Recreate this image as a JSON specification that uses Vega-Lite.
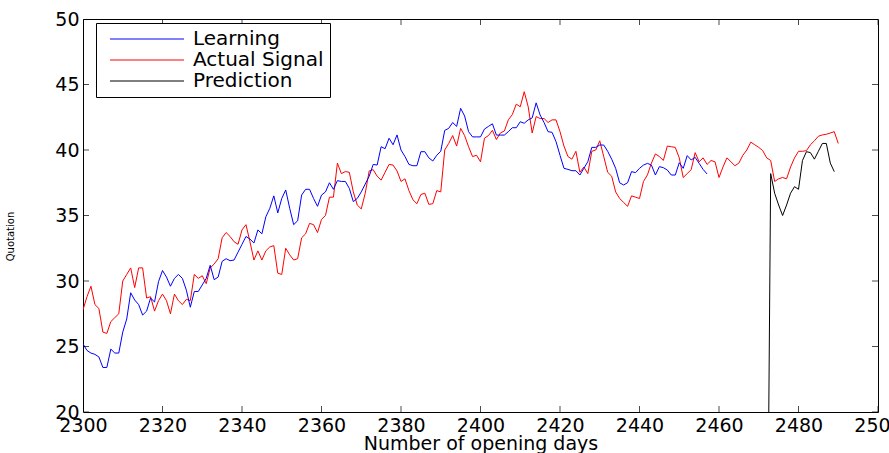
{
  "$schema": "https://vega.github.io/schema/vega-lite/v6.json",
  "width": 795,
  "height": 393,
  "autosize": {"type": "none"},
  "padding": {"left": 83, "top": 19, "right": 11, "bottom": 41},
  "background": "white",
  "config": {
    "view": {"stroke": "black", "strokeWidth": 1},
    "font": "DejaVu Sans",
    "axis": {"grid": false, "domainColor": "black", "labelColor": "black", "titleColor": "black", "labelFont": "DejaVu Sans", "titleFont": "DejaVu Sans", "titleFontWeight": "normal", "labelFontSize": 19, "titleFontSize": 19}
  },
  "datasets": {
    "xticks": [{"t":2300},{"t":2320},{"t":2340},{"t":2360},{"t":2380},{"t":2400},{"t":2420},{"t":2440},{"t":2460},{"t":2480},{"t":2500}],
    "yticks": [{"t":20},{"t":25},{"t":30},{"t":35},{"t":40},{"t":45},{"t":50}]
  },
  "data": {"values": [
    {"day":2300,"value":27.8,"series":"Actual Signal"},{"day":2301,"value":28.8,"series":"Actual Signal"},{"day":2302,"value":29.6,"series":"Actual Signal"},{"day":2303,"value":28.2,"series":"Actual Signal"},{"day":2304,"value":27.9,"series":"Actual Signal"},{"day":2305,"value":26.1,"series":"Actual Signal"},{"day":2306,"value":26.0,"series":"Actual Signal"},{"day":2307,"value":26.9,"series":"Actual Signal"},{"day":2308,"value":27.2,"series":"Actual Signal"},{"day":2309,"value":27.5,"series":"Actual Signal"},
    {"day":2310,"value":30.0,"series":"Actual Signal"},{"day":2311,"value":30.5,"series":"Actual Signal"},{"day":2312,"value":31.0,"series":"Actual Signal"},{"day":2313,"value":29.5,"series":"Actual Signal"},{"day":2314,"value":31.0,"series":"Actual Signal"},{"day":2315,"value":31.0,"series":"Actual Signal"},{"day":2316,"value":28.7,"series":"Actual Signal"},{"day":2317,"value":28.8,"series":"Actual Signal"},{"day":2318,"value":27.7,"series":"Actual Signal"},{"day":2319,"value":28.5,"series":"Actual Signal"},
    {"day":2320,"value":29.0,"series":"Actual Signal"},{"day":2321,"value":28.5,"series":"Actual Signal"},{"day":2322,"value":27.5,"series":"Actual Signal"},{"day":2323,"value":29.0,"series":"Actual Signal"},{"day":2324,"value":28.5,"series":"Actual Signal"},{"day":2325,"value":28.2,"series":"Actual Signal"},{"day":2326,"value":28.6,"series":"Actual Signal"},{"day":2327,"value":28.5,"series":"Actual Signal"},{"day":2328,"value":30.5,"series":"Actual Signal"},{"day":2329,"value":30.2,"series":"Actual Signal"},
    {"day":2330,"value":30.4,"series":"Actual Signal"},{"day":2331,"value":29.8,"series":"Actual Signal"},{"day":2332,"value":31.0,"series":"Actual Signal"},{"day":2333,"value":31.3,"series":"Actual Signal"},{"day":2334,"value":31.7,"series":"Actual Signal"},{"day":2335,"value":33.3,"series":"Actual Signal"},{"day":2336,"value":33.7,"series":"Actual Signal"},{"day":2337,"value":33.4,"series":"Actual Signal"},{"day":2338,"value":33.0,"series":"Actual Signal"},{"day":2339,"value":32.8,"series":"Actual Signal"},
    {"day":2340,"value":33.9,"series":"Actual Signal"},{"day":2341,"value":34.3,"series":"Actual Signal"},{"day":2342,"value":33.0,"series":"Actual Signal"},{"day":2343,"value":31.6,"series":"Actual Signal"},{"day":2344,"value":32.3,"series":"Actual Signal"},{"day":2345,"value":31.6,"series":"Actual Signal"},{"day":2346,"value":32.3,"series":"Actual Signal"},{"day":2347,"value":32.6,"series":"Actual Signal"},{"day":2348,"value":32.7,"series":"Actual Signal"},{"day":2349,"value":30.6,"series":"Actual Signal"},
    {"day":2350,"value":30.5,"series":"Actual Signal"},{"day":2351,"value":32.5,"series":"Actual Signal"},{"day":2352,"value":32.0,"series":"Actual Signal"},{"day":2353,"value":31.6,"series":"Actual Signal"},{"day":2354,"value":31.7,"series":"Actual Signal"},{"day":2355,"value":33.3,"series":"Actual Signal"},{"day":2356,"value":33.6,"series":"Actual Signal"},{"day":2357,"value":34.4,"series":"Actual Signal"},{"day":2358,"value":34.3,"series":"Actual Signal"},{"day":2359,"value":33.7,"series":"Actual Signal"},
    {"day":2360,"value":34.7,"series":"Actual Signal"},{"day":2361,"value":35.0,"series":"Actual Signal"},{"day":2362,"value":36.4,"series":"Actual Signal"},{"day":2363,"value":36.4,"series":"Actual Signal"},{"day":2364,"value":39.0,"series":"Actual Signal"},{"day":2365,"value":38.2,"series":"Actual Signal"},{"day":2366,"value":38.35,"series":"Actual Signal"},{"day":2367,"value":38.3,"series":"Actual Signal"},{"day":2368,"value":36.8,"series":"Actual Signal"},{"day":2369,"value":35.8,"series":"Actual Signal"},
    {"day":2370,"value":35.5,"series":"Actual Signal"},{"day":2371,"value":36.7,"series":"Actual Signal"},{"day":2372,"value":38.4,"series":"Actual Signal"},{"day":2373,"value":38.5,"series":"Actual Signal"},{"day":2374,"value":38.0,"series":"Actual Signal"},{"day":2375,"value":37.7,"series":"Actual Signal"},{"day":2376,"value":38.3,"series":"Actual Signal"},{"day":2377,"value":38.9,"series":"Actual Signal"},{"day":2378,"value":38.85,"series":"Actual Signal"},{"day":2379,"value":38.4,"series":"Actual Signal"},
    {"day":2380,"value":37.6,"series":"Actual Signal"},{"day":2381,"value":37.8,"series":"Actual Signal"},{"day":2382,"value":36.9,"series":"Actual Signal"},{"day":2383,"value":36.2,"series":"Actual Signal"},{"day":2384,"value":35.9,"series":"Actual Signal"},{"day":2385,"value":36.6,"series":"Actual Signal"},{"day":2386,"value":36.7,"series":"Actual Signal"},{"day":2387,"value":35.85,"series":"Actual Signal"},{"day":2388,"value":35.9,"series":"Actual Signal"},{"day":2389,"value":36.9,"series":"Actual Signal"},
    {"day":2390,"value":36.8,"series":"Actual Signal"},{"day":2391,"value":40.0,"series":"Actual Signal"},{"day":2392,"value":40.5,"series":"Actual Signal"},{"day":2393,"value":41.1,"series":"Actual Signal"},{"day":2394,"value":40.3,"series":"Actual Signal"},{"day":2395,"value":41.65,"series":"Actual Signal"},{"day":2396,"value":41.1,"series":"Actual Signal"},{"day":2397,"value":40.25,"series":"Actual Signal"},{"day":2398,"value":39.5,"series":"Actual Signal"},{"day":2399,"value":39.6,"series":"Actual Signal"},
    {"day":2400,"value":39.1,"series":"Actual Signal"},{"day":2401,"value":40.9,"series":"Actual Signal"},{"day":2402,"value":41.1,"series":"Actual Signal"},{"day":2403,"value":41.5,"series":"Actual Signal"},{"day":2404,"value":40.8,"series":"Actual Signal"},{"day":2405,"value":41.3,"series":"Actual Signal"},{"day":2406,"value":41.45,"series":"Actual Signal"},{"day":2407,"value":42.3,"series":"Actual Signal"},{"day":2408,"value":42.7,"series":"Actual Signal"},{"day":2409,"value":43.5,"series":"Actual Signal"},
    {"day":2410,"value":43.3,"series":"Actual Signal"},{"day":2411,"value":44.45,"series":"Actual Signal"},{"day":2412,"value":43.3,"series":"Actual Signal"},{"day":2413,"value":41.3,"series":"Actual Signal"},{"day":2414,"value":42.55,"series":"Actual Signal"},{"day":2415,"value":42.4,"series":"Actual Signal"},{"day":2416,"value":42.4,"series":"Actual Signal"},{"day":2417,"value":42.1,"series":"Actual Signal"},{"day":2418,"value":42.3,"series":"Actual Signal"},{"day":2419,"value":42.3,"series":"Actual Signal"},
    {"day":2420,"value":41.4,"series":"Actual Signal"},{"day":2421,"value":40.3,"series":"Actual Signal"},{"day":2422,"value":39.5,"series":"Actual Signal"},{"day":2423,"value":39.3,"series":"Actual Signal"},{"day":2424,"value":39.9,"series":"Actual Signal"},{"day":2425,"value":38.3,"series":"Actual Signal"},{"day":2426,"value":38.7,"series":"Actual Signal"},{"day":2427,"value":38.2,"series":"Actual Signal"},{"day":2428,"value":39.9,"series":"Actual Signal"},{"day":2429,"value":40.0,"series":"Actual Signal"},
    {"day":2430,"value":40.7,"series":"Actual Signal"},{"day":2431,"value":39.5,"series":"Actual Signal"},{"day":2432,"value":38.3,"series":"Actual Signal"},{"day":2433,"value":38.0,"series":"Actual Signal"},{"day":2434,"value":36.8,"series":"Actual Signal"},{"day":2435,"value":36.3,"series":"Actual Signal"},{"day":2436,"value":36.0,"series":"Actual Signal"},{"day":2437,"value":35.7,"series":"Actual Signal"},{"day":2438,"value":36.5,"series":"Actual Signal"},{"day":2439,"value":36.4,"series":"Actual Signal"},
    {"day":2440,"value":36.3,"series":"Actual Signal"},{"day":2441,"value":37.6,"series":"Actual Signal"},{"day":2442,"value":38.1,"series":"Actual Signal"},{"day":2443,"value":39.0,"series":"Actual Signal"},{"day":2444,"value":39.7,"series":"Actual Signal"},{"day":2445,"value":39.5,"series":"Actual Signal"},{"day":2446,"value":39.2,"series":"Actual Signal"},{"day":2447,"value":40.3,"series":"Actual Signal"},{"day":2448,"value":40.25,"series":"Actual Signal"},{"day":2449,"value":40.2,"series":"Actual Signal"},
    {"day":2450,"value":39.4,"series":"Actual Signal"},{"day":2451,"value":37.9,"series":"Actual Signal"},{"day":2452,"value":38.2,"series":"Actual Signal"},{"day":2453,"value":38.5,"series":"Actual Signal"},{"day":2454,"value":39.8,"series":"Actual Signal"},{"day":2455,"value":39.1,"series":"Actual Signal"},{"day":2456,"value":39.4,"series":"Actual Signal"},{"day":2457,"value":38.9,"series":"Actual Signal"},{"day":2458,"value":39.2,"series":"Actual Signal"},{"day":2459,"value":39.1,"series":"Actual Signal"},
    {"day":2460,"value":37.9,"series":"Actual Signal"},{"day":2461,"value":38.7,"series":"Actual Signal"},{"day":2462,"value":39.4,"series":"Actual Signal"},{"day":2463,"value":39.1,"series":"Actual Signal"},{"day":2464,"value":38.8,"series":"Actual Signal"},{"day":2465,"value":39.0,"series":"Actual Signal"},{"day":2466,"value":39.6,"series":"Actual Signal"},{"day":2467,"value":40.0,"series":"Actual Signal"},{"day":2468,"value":40.6,"series":"Actual Signal"},{"day":2469,"value":40.4,"series":"Actual Signal"},
    {"day":2470,"value":40.2,"series":"Actual Signal"},{"day":2471,"value":39.95,"series":"Actual Signal"},{"day":2472,"value":39.4,"series":"Actual Signal"},{"day":2473,"value":39.2,"series":"Actual Signal"},{"day":2474,"value":37.6,"series":"Actual Signal"},{"day":2475,"value":37.8,"series":"Actual Signal"},{"day":2476,"value":37.9,"series":"Actual Signal"},{"day":2477,"value":37.8,"series":"Actual Signal"},{"day":2478,"value":38.7,"series":"Actual Signal"},{"day":2479,"value":39.4,"series":"Actual Signal"},
    {"day":2480,"value":39.9,"series":"Actual Signal"},{"day":2481,"value":39.9,"series":"Actual Signal"},{"day":2482,"value":39.95,"series":"Actual Signal"},{"day":2483,"value":40.4,"series":"Actual Signal"},{"day":2484,"value":40.7,"series":"Actual Signal"},{"day":2485,"value":41.05,"series":"Actual Signal"},{"day":2486,"value":41.15,"series":"Actual Signal"},{"day":2487,"value":41.2,"series":"Actual Signal"},{"day":2488,"value":41.3,"series":"Actual Signal"},{"day":2489,"value":41.4,"series":"Actual Signal"},
    {"day":2490,"value":40.5,"series":"Actual Signal"},
    {"day":2300,"value":25.2,"series":"Learning"},{"day":2301,"value":24.7,"series":"Learning"},{"day":2302,"value":24.5,"series":"Learning"},{"day":2303,"value":24.4,"series":"Learning"},{"day":2304,"value":24.2,"series":"Learning"},{"day":2305,"value":23.4,"series":"Learning"},{"day":2306,"value":23.4,"series":"Learning"},{"day":2307,"value":24.8,"series":"Learning"},{"day":2308,"value":24.5,"series":"Learning"},{"day":2309,"value":24.5,"series":"Learning"},
    {"day":2310,"value":26.1,"series":"Learning"},{"day":2311,"value":27.1,"series":"Learning"},{"day":2312,"value":29.1,"series":"Learning"},{"day":2313,"value":28.55,"series":"Learning"},{"day":2314,"value":28.2,"series":"Learning"},{"day":2315,"value":27.4,"series":"Learning"},{"day":2316,"value":27.7,"series":"Learning"},{"day":2317,"value":28.7,"series":"Learning"},{"day":2318,"value":28.4,"series":"Learning"},{"day":2319,"value":29.95,"series":"Learning"},
    {"day":2320,"value":30.8,"series":"Learning"},{"day":2321,"value":30.3,"series":"Learning"},{"day":2322,"value":29.6,"series":"Learning"},{"day":2323,"value":30.2,"series":"Learning"},{"day":2324,"value":30.5,"series":"Learning"},{"day":2325,"value":30.2,"series":"Learning"},{"day":2326,"value":29.3,"series":"Learning"},{"day":2327,"value":28.0,"series":"Learning"},{"day":2328,"value":29.2,"series":"Learning"},{"day":2329,"value":29.2,"series":"Learning"},
    {"day":2330,"value":29.7,"series":"Learning"},{"day":2331,"value":30.2,"series":"Learning"},{"day":2332,"value":31.2,"series":"Learning"},{"day":2333,"value":30.1,"series":"Learning"},{"day":2334,"value":30.3,"series":"Learning"},{"day":2335,"value":31.5,"series":"Learning"},{"day":2336,"value":31.7,"series":"Learning"},{"day":2337,"value":31.55,"series":"Learning"},{"day":2338,"value":31.6,"series":"Learning"},{"day":2339,"value":32.2,"series":"Learning"},
    {"day":2340,"value":32.8,"series":"Learning"},{"day":2341,"value":33.4,"series":"Learning"},{"day":2342,"value":33.2,"series":"Learning"},{"day":2343,"value":32.9,"series":"Learning"},{"day":2344,"value":33.9,"series":"Learning"},{"day":2345,"value":33.6,"series":"Learning"},{"day":2346,"value":34.9,"series":"Learning"},{"day":2347,"value":35.55,"series":"Learning"},{"day":2348,"value":36.5,"series":"Learning"},{"day":2349,"value":35.2,"series":"Learning"},
    {"day":2350,"value":36.3,"series":"Learning"},{"day":2351,"value":36.95,"series":"Learning"},{"day":2352,"value":35.55,"series":"Learning"},{"day":2353,"value":34.3,"series":"Learning"},{"day":2354,"value":34.6,"series":"Learning"},{"day":2355,"value":36.56,"series":"Learning"},{"day":2356,"value":37.0,"series":"Learning"},{"day":2357,"value":37.0,"series":"Learning"},{"day":2358,"value":36.3,"series":"Learning"},{"day":2359,"value":35.7,"series":"Learning"},
    {"day":2360,"value":36.56,"series":"Learning"},{"day":2361,"value":36.8,"series":"Learning"},{"day":2362,"value":37.5,"series":"Learning"},{"day":2363,"value":37.0,"series":"Learning"},{"day":2364,"value":37.66,"series":"Learning"},{"day":2365,"value":37.6,"series":"Learning"},{"day":2366,"value":37.6,"series":"Learning"},{"day":2367,"value":37.07,"series":"Learning"},{"day":2368,"value":36.06,"series":"Learning"},{"day":2369,"value":36.3,"series":"Learning"},
    {"day":2370,"value":36.8,"series":"Learning"},{"day":2371,"value":37.4,"series":"Learning"},{"day":2372,"value":38.0,"series":"Learning"},{"day":2373,"value":38.9,"series":"Learning"},{"day":2374,"value":38.85,"series":"Learning"},{"day":2375,"value":40.25,"series":"Learning"},{"day":2376,"value":40.1,"series":"Learning"},{"day":2377,"value":40.9,"series":"Learning"},{"day":2378,"value":40.4,"series":"Learning"},{"day":2379,"value":41.15,"series":"Learning"},
    {"day":2380,"value":40.0,"series":"Learning"},{"day":2381,"value":39.5,"series":"Learning"},{"day":2382,"value":38.9,"series":"Learning"},{"day":2383,"value":38.8,"series":"Learning"},{"day":2384,"value":38.8,"series":"Learning"},{"day":2385,"value":39.87,"series":"Learning"},{"day":2386,"value":39.87,"series":"Learning"},{"day":2387,"value":39.4,"series":"Learning"},{"day":2388,"value":39.16,"series":"Learning"},{"day":2389,"value":39.6,"series":"Learning"},
    {"day":2390,"value":39.9,"series":"Learning"},{"day":2391,"value":41.5,"series":"Learning"},{"day":2392,"value":41.65,"series":"Learning"},{"day":2393,"value":42.1,"series":"Learning"},{"day":2394,"value":41.8,"series":"Learning"},{"day":2395,"value":43.18,"series":"Learning"},{"day":2396,"value":42.6,"series":"Learning"},{"day":2397,"value":41.4,"series":"Learning"},{"day":2398,"value":41.0,"series":"Learning"},{"day":2399,"value":41.0,"series":"Learning"},
    {"day":2400,"value":41.0,"series":"Learning"},{"day":2401,"value":41.6,"series":"Learning"},{"day":2402,"value":41.8,"series":"Learning"},{"day":2403,"value":42.0,"series":"Learning"},{"day":2404,"value":41.14,"series":"Learning"},{"day":2405,"value":41.14,"series":"Learning"},{"day":2406,"value":41.14,"series":"Learning"},{"day":2407,"value":41.4,"series":"Learning"},{"day":2408,"value":41.7,"series":"Learning"},{"day":2409,"value":41.7,"series":"Learning"},
    {"day":2410,"value":42.16,"series":"Learning"},{"day":2411,"value":42.04,"series":"Learning"},{"day":2412,"value":42.3,"series":"Learning"},{"day":2413,"value":42.45,"series":"Learning"},{"day":2414,"value":43.6,"series":"Learning"},{"day":2415,"value":42.67,"series":"Learning"},{"day":2416,"value":42.09,"series":"Learning"},{"day":2417,"value":41.4,"series":"Learning"},{"day":2418,"value":41.35,"series":"Learning"},{"day":2419,"value":40.64,"series":"Learning"},
    {"day":2420,"value":39.6,"series":"Learning"},{"day":2421,"value":38.6,"series":"Learning"},{"day":2422,"value":38.52,"series":"Learning"},{"day":2423,"value":38.42,"series":"Learning"},{"day":2424,"value":38.42,"series":"Learning"},{"day":2425,"value":38.09,"series":"Learning"},{"day":2426,"value":38.6,"series":"Learning"},{"day":2427,"value":39.11,"series":"Learning"},{"day":2428,"value":40.2,"series":"Learning"},{"day":2429,"value":40.2,"series":"Learning"},
    {"day":2430,"value":40.38,"series":"Learning"},{"day":2431,"value":40.38,"series":"Learning"},{"day":2432,"value":39.9,"series":"Learning"},{"day":2433,"value":39.3,"series":"Learning"},{"day":2434,"value":38.6,"series":"Learning"},{"day":2435,"value":37.5,"series":"Learning"},{"day":2436,"value":37.33,"series":"Learning"},{"day":2437,"value":37.5,"series":"Learning"},{"day":2438,"value":38.35,"series":"Learning"},{"day":2439,"value":38.27,"series":"Learning"},
    {"day":2440,"value":38.6,"series":"Learning"},{"day":2441,"value":38.85,"series":"Learning"},{"day":2442,"value":38.98,"series":"Learning"},{"day":2443,"value":38.85,"series":"Learning"},{"day":2444,"value":38.09,"series":"Learning"},{"day":2445,"value":38.73,"series":"Learning"},{"day":2446,"value":38.65,"series":"Learning"},{"day":2447,"value":38.47,"series":"Learning"},{"day":2448,"value":38.09,"series":"Learning"},{"day":2449,"value":38.09,"series":"Learning"},
    {"day":2450,"value":39.03,"series":"Learning"},{"day":2451,"value":38.6,"series":"Learning"},{"day":2452,"value":39.57,"series":"Learning"},{"day":2453,"value":39.24,"series":"Learning"},{"day":2454,"value":39.44,"series":"Learning"},{"day":2455,"value":38.98,"series":"Learning"},{"day":2456,"value":38.52,"series":"Learning"},{"day":2457,"value":38.17,"series":"Learning"},
    {"day":2472,"value":0,"series":"Prediction"},{"day":2473,"value":38.2,"series":"Prediction"},{"day":2474,"value":36.7,"series":"Prediction"},{"day":2475,"value":35.8,"series":"Prediction"},{"day":2476,"value":35.0,"series":"Prediction"},{"day":2477,"value":35.8,"series":"Prediction"},{"day":2478,"value":36.7,"series":"Prediction"},{"day":2479,"value":37.2,"series":"Prediction"},{"day":2480,"value":37.0,"series":"Prediction"},{"day":2481,"value":39.2,"series":"Prediction"},
    {"day":2482,"value":39.87,"series":"Prediction"},{"day":2483,"value":39.8,"series":"Prediction"},{"day":2484,"value":39.3,"series":"Prediction"},{"day":2485,"value":39.9,"series":"Prediction"},{"day":2486,"value":40.5,"series":"Prediction"},{"day":2487,"value":40.5,"series":"Prediction"},{"day":2488,"value":39.0,"series":"Prediction"},{"day":2489,"value":38.35,"series":"Prediction"}
  ]},
  "layer": [
    {
      "mark": {"type": "line", "strokeWidth": 1, "clip": true},
      "encoding": {
        "x": {"field": "day", "type": "quantitative", "scale": {"domain": [2300, 2500], "nice": false, "zero": false},
              "axis": {"values": [2300,2320,2340,2360,2380,2400,2420,2440,2460,2480,2500], "format": "d", "ticks": false, "domain": false, "labelPadding": 4, "labelFlush": false, "labelOverlap": false, "title": "Number of opening days", "titlePadding": -1}},
        "y": {"field": "value", "type": "quantitative", "scale": {"domain": [20, 50], "nice": false, "zero": false},
              "axis": {"values": [20,25,30,35,40,45,50], "ticks": false, "domain": false, "labelPadding": 4, "labelFlush": false, "labelOverlap": false, "title": "Quotation", "titleFontSize": 10, "titleX": -68, "titleY": 217}},
        "color": {"field": "series", "type": "nominal",
                  "scale": {"domain": ["Learning", "Actual Signal", "Prediction"], "range": ["#0000ff", "#ff0000", "#000000"]},
                  "legend": {"orient": "none", "legendX": 13, "legendY": 4, "title": null, "symbolType": "M-6,0H6", "symbolSize": 152, "symbolStrokeWidth": 1, "labelFontSize": 20, "labelFont": "DejaVu Sans", "labelColor": "black", "strokeColor": "black", "fillColor": "white", "padding": 6, "rowPadding": 1, "symbolOffset": 35, "labelOffset": 36, "cornerRadius": 0}}
      }
    },
    {
      "data": {"name": "xticks"},
      "mark": {"type": "tick", "orient": "vertical", "size": 12, "thickness": 1, "color": "black", "clip": true},
      "encoding": {
        "x": {"field": "t", "type": "quantitative", "scale": {"domain": [2300, 2500], "nice": false, "zero": false}, "axis": null},
        "y": {"datum": 20, "type": "quantitative", "scale": {"domain": [20, 50], "nice": false, "zero": false}, "axis": null}
      }
    },
    {
      "data": {"name": "xticks"},
      "mark": {"type": "tick", "orient": "vertical", "size": 12, "thickness": 1, "color": "black", "clip": true},
      "encoding": {
        "x": {"field": "t", "type": "quantitative", "scale": {"domain": [2300, 2500], "nice": false, "zero": false}, "axis": null},
        "y": {"datum": 50, "type": "quantitative", "scale": {"domain": [20, 50], "nice": false, "zero": false}, "axis": null}
      }
    },
    {
      "data": {"name": "yticks"},
      "mark": {"type": "tick", "orient": "horizontal", "size": 12, "thickness": 1, "color": "black", "clip": true},
      "encoding": {
        "y": {"field": "t", "type": "quantitative", "scale": {"domain": [20, 50], "nice": false, "zero": false}, "axis": null},
        "x": {"datum": 2300, "type": "quantitative", "scale": {"domain": [2300, 2500], "nice": false, "zero": false}, "axis": null}
      }
    },
    {
      "data": {"name": "yticks"},
      "mark": {"type": "tick", "orient": "horizontal", "size": 12, "thickness": 1, "color": "black", "clip": true},
      "encoding": {
        "y": {"field": "t", "type": "quantitative", "scale": {"domain": [20, 50], "nice": false, "zero": false}, "axis": null},
        "x": {"datum": 2500, "type": "quantitative", "scale": {"domain": [2300, 2500], "nice": false, "zero": false}, "axis": null}
      }
    }
  ],
  "resolve": {"axis": {"x": "independent", "y": "independent"}}
}
